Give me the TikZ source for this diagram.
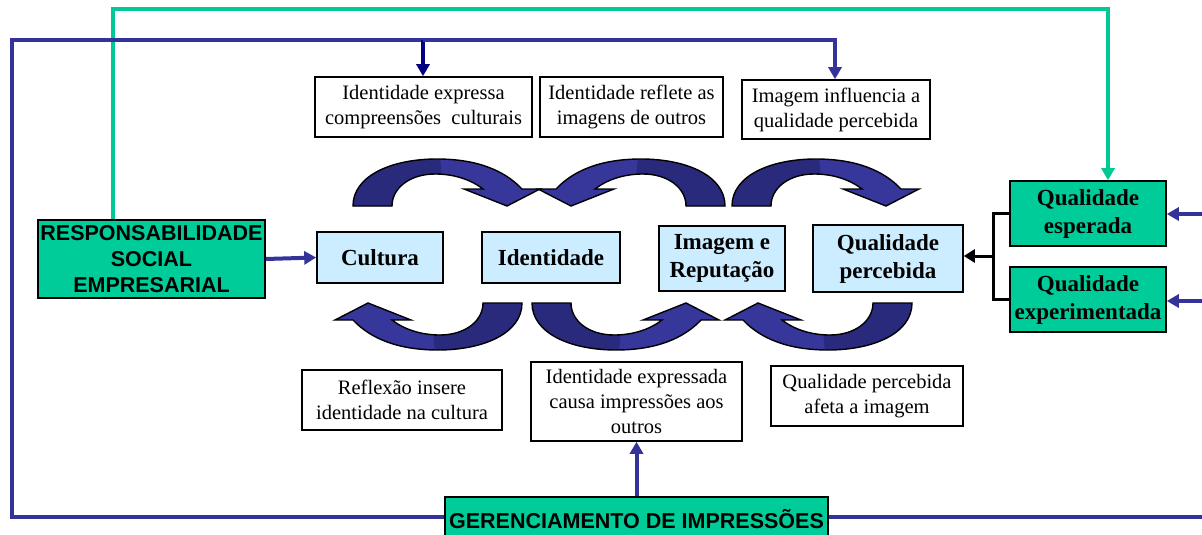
\documentclass[tikz,border=0pt]{standalone}
\usepackage{fontspec}
\setmainfont{Liberation Serif}
\newfontfamily\arialfont{Liberation Sans}
\usetikzlibrary{arrows.meta}
\definecolor{lblue}{HTML}{CCECFF}
\definecolor{mgreen}{HTML}{00CC99}
\definecolor{lgreen}{HTML}{00C896}
\definecolor{bline}{HTML}{333399}
\definecolor{arrlight}{HTML}{36369B}
\definecolor{arrdark}{HTML}{2A2A7C}
\definecolor{navyb}{HTML}{000080}
\tikzset{
  mainbox/.style={draw=black, line width=1.6pt, fill=lblue, align=center, inner sep=0pt,
    font=\bfseries\fontsize{23}{28}\selectfont},
  txtbox/.style={draw=black, line width=1.6pt, fill=white, align=center, inner sep=0pt,
    font=\fontsize{20.5}{25}\selectfont},
  greenbox/.style={draw=black, line width=1.6pt, fill=mgreen, align=center, inner sep=0pt,
    font=\bfseries\fontsize{23}{28}\selectfont},
  sansgreen/.style={draw=black, line width=1.6pt, fill=mgreen, align=center, inner sep=0pt,
    font=\arialfont\bfseries\fontsize{21.5}{26}\selectfont},
  blueline/.style={draw=bline, line width=4pt},
  tealline/.style={draw=lgreen, line width=4pt},
  bluearrow/.style={-{Triangle[length=12pt,width=13pt]}},
  curvarr/.pic={
    \fill[arrlight] (0,0) .. controls (0,-30) and (38,-47) .. (84,-47)
      .. controls (125,-47) and (152,-35) .. (169,-17) -- (187,-17) -- (154,0) -- (111,-17) -- (130,-17)
      .. controls (117,-27) and (100,-32) .. (82,-32) .. controls (57,-32) and (39,-18) .. (39,0) -- cycle;
    \begin{scope}
      \clip (-5,5) -- (-5,-60) -- (86,-60) -- (92,5) -- cycle;
      \fill[arrdark] (0,0) .. controls (0,-30) and (38,-47) .. (84,-47)
        .. controls (125,-47) and (152,-35) .. (169,-17) -- (187,-17) -- (154,0) -- (111,-17) -- (130,-17)
        .. controls (117,-27) and (100,-32) .. (82,-32) .. controls (57,-32) and (39,-18) .. (39,0) -- cycle;
    \end{scope}
    \draw[black, line width=1.4pt] (0,0) .. controls (0,-30) and (38,-47) .. (84,-47)
      .. controls (125,-47) and (152,-35) .. (169,-17) -- (187,-17) -- (154,0) -- (111,-17) -- (130,-17)
      .. controls (117,-27) and (100,-32) .. (82,-32) .. controls (57,-32) and (39,-18) .. (39,0) -- cycle;
  }
}
\begin{document}
\begin{tikzpicture}[x=1pt,y=-1pt]
\useasboundingbox[fill=white] (0,0) rectangle (1202,535);

% curved arrows
\pic at (353,206) {curvarr};
\pic[xscale=-1] at (725,206) {curvarr};
\pic at (732,206) {curvarr};
\pic[xscale=-1,yscale=-1] at (522,303) {curvarr};
\pic[yscale=-1] at (532,303) {curvarr};
\pic[xscale=-1,yscale=-1] at (912,303) {curvarr};

% main nodes
\node[sansgreen, minimum width=227pt, minimum height=78pt] (rse) at (151.5,259) {RESPONSABILIDADE\\SOCIAL\\EMPRESARIAL};
\node[mainbox, minimum width=126pt, minimum height=51pt] (cult) at (380,257.5) {Cultura};
\node[mainbox, minimum width=138pt, minimum height=51pt] (ident) at (551,257.5) {Identidade};
\node[mainbox, minimum width=126pt, minimum height=65pt] (imag) at (722,258.5) {Imagem e\\Reputação};
\node[mainbox, minimum width=150pt, minimum height=67pt] (qperc) at (888,258.5) {Qualidade\\percebida};
\node[greenbox, minimum width=156pt, minimum height=65pt] (qesp) at (1088,213.5) {Qualidade\\esperada};
\node[greenbox, minimum width=156pt, minimum height=65pt] (qexp) at (1088,299.5) {Qualidade\\experimentada};

% text boxes
\node[txtbox, minimum width=217pt, minimum height=60pt] (t1) at (423.5,107) {Identidade expressa\\compreensões~~culturais};
\node[txtbox, minimum width=183pt, minimum height=60pt] (t2) at (631.5,107) {Identidade reflete as\\imagens de outros};
\node[txtbox, minimum width=188pt, minimum height=59pt] (t3) at (836,109.5) {Imagem influencia a\\qualidade percebida};
\node[txtbox, minimum width=200pt, minimum height=60pt] (b1) at (402,400) {Reflexão insere\\identidade na cultura};
\node[txtbox, minimum width=211pt, minimum height=79pt] (b2) at (636.5,401.5) {Identidade expressada\\causa impressões aos\\outros};
\node[txtbox, minimum width=192pt, minimum height=60pt] (b3) at (867,396) {Qualidade percebida\\afeta a imagem};
\node[sansgreen, minimum width=383pt, minimum height=44pt] (ger) at (636.5,519) {GERENCIAMENTO DE IMPRESSÕES};

% coordinates for connectors
\coordinate (tl) at (113,9);
\coordinate (tr) at (1108,9);
\coordinate (bl) at (12,517);
\coordinate (c1) at (12,40);
\coordinate (c2) at (835,40);
\coordinate (c3) at (423,40);
\coordinate (br) at (1202,517);
\coordinate (re1) at (1202,214);
\coordinate (re2) at (1202,301);
\coordinate (bk) at (993,256);

% teal connector
\draw[tealline, bluearrow] (rse.north -| tl) -- (tl) -- (tr) -- (qesp.north -| tr);
% blue connectors
\draw[blueline] (ger.west |- bl) -- (bl) -- (c1) -- (c3);
\draw[draw=navyb, line width=4pt, bluearrow] (c3) -- (t1.north -| c3);
\draw[blueline, bluearrow] (c3) -- (c2) -- (t3.north -| c2);
\draw[blueline] (ger.east |- br) -- (br);
\draw[blueline, bluearrow] (re1) -- (qesp.east |- re1);
\draw[blueline, bluearrow] (re2) -- (qexp.east |- re2);
\draw[blueline, bluearrow] (ger.north) -- (b2.south);
\draw[blueline, bluearrow] (rse.east) -- (cult.west);
% bracket
\draw[black, line width=3pt] (qesp.west) -- (qesp.west -| bk) -- (qexp.west -| bk) -- (qexp.west);
\draw[black, line width=3pt, -{Triangle[length=11pt,width=13pt]}] (bk) -- (qperc.east |- bk);
\end{tikzpicture}
\end{document}
